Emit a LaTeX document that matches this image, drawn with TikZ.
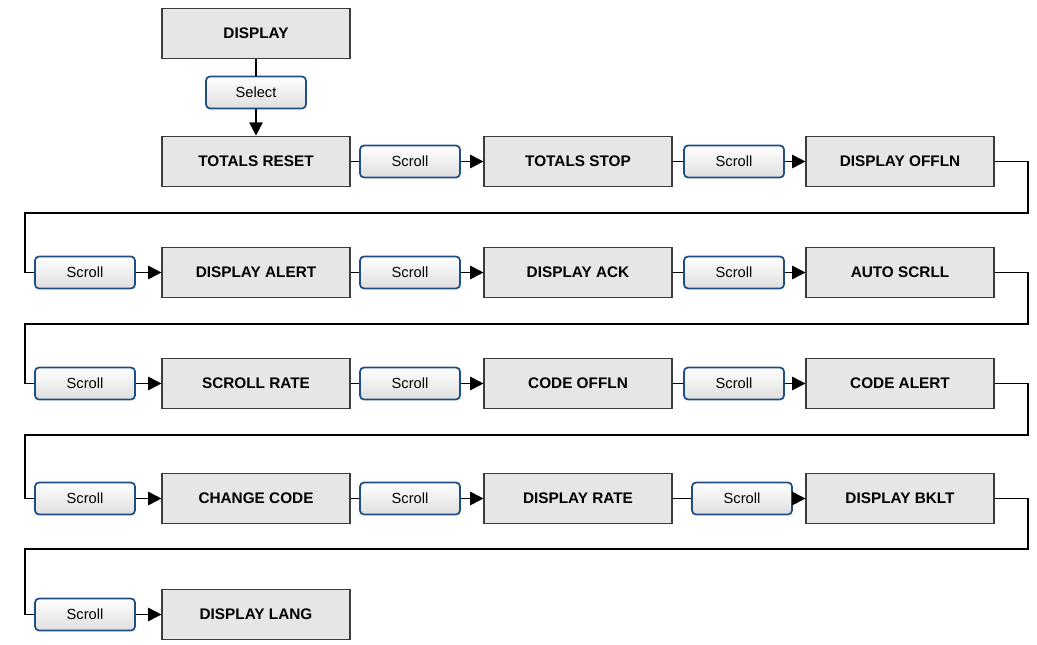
\documentclass[tikz,border=0pt]{standalone}
\usepackage{fontspec}
\setmainfont{Liberation Sans}
\usetikzlibrary{arrows.meta,positioning}
\definecolor{boxfill}{HTML}{E6E6E6}
\definecolor{boxline}{HTML}{3C3C3C}
\definecolor{btnline}{HTML}{1F4E85}

\begin{document}
\begin{tikzpicture}[x=0.75pt, y=-0.75pt,
    menubox/.style={draw=boxline, fill=boxfill, line width=0.8pt, minimum width=141pt, minimum height=38pt, inner sep=0pt, font=\fontsize{11.5}{13}\selectfont\bfseries},
    btn/.style={draw=btnline, top color=white, bottom color=black!13, line width=1.3pt, rounded corners=3pt, minimum width=75pt, minimum height=24pt, inner sep=0pt, font=\fontsize{11}{13}\selectfont},
    link/.style={line width=1.3pt},
    go/.style={link, -{Triangle[length=10pt,width=10pt]}},
]
\useasboundingbox (0,0) rectangle (1037,645);
% menu items
\node[menubox] (disp)  at (256, 33.5) {DISPLAY};
\node[menubox] (tr)    at (256,161.5) {TOTALS RESET};
\node[menubox] (ts)    at (578,161.5) {TOTALS STOP};
\node[menubox] (doff)  at (900,161.5) {DISPLAY OFFLN};
\node[menubox] (dal)   at (256,272.5) {DISPLAY ALERT};
\node[menubox] (dack)  at (578,272.5) {DISPLAY ACK};
\node[menubox] (ascr)  at (900,272.5) {AUTO SCRLL};
\node[menubox] (srate) at (256,383.5) {SCROLL RATE};
\node[menubox] (coff)  at (578,383.5) {CODE OFFLN};
\node[menubox] (calrt) at (900,383.5) {CODE ALERT};
\node[menubox] (chg)   at (256,498.5) {CHANGE CODE};
\node[menubox] (drate) at (578,498.5) {DISPLAY RATE};
\node[menubox] (dbklt) at (900,498.5) {DISPLAY BKLT};
\node[menubox] (dlang) at (256,614.5) {DISPLAY LANG};
% buttons
\node[btn] (sel) at (256, 92.5) {Select};
\node[btn] (s1)  at (410,161.5) {Scroll};
\node[btn] (s2)  at (734,161.5) {Scroll};
\node[btn] (s3)  at ( 85,272.5) {Scroll};
\node[btn] (s4)  at (410,272.5) {Scroll};
\node[btn] (s5)  at (734,272.5) {Scroll};
\node[btn] (s6)  at ( 85,383.5) {Scroll};
\node[btn] (s7)  at (410,383.5) {Scroll};
\node[btn] (s8)  at (734,383.5) {Scroll};
\node[btn] (s9)  at ( 85,498.5) {Scroll};
\node[btn] (s10) at (410,498.5) {Scroll};
\node[btn] (s11) at (742,498.5) {Scroll};
\node[btn] (s12) at ( 85,614.5) {Scroll};
% turn points
\coordinate (t1r) at (1028,213);  \coordinate (t1l) at (25,213);
\coordinate (t2r) at (1028,324);  \coordinate (t2l) at (25,324);
\coordinate (t3r) at (1028,435);  \coordinate (t3l) at (25,435);
\coordinate (t4r) at (1028,549);  \coordinate (t4l) at (25,549);
% links
\draw[link] (disp) -- (sel);  \draw[go] (sel) -- (tr);
\draw[link] (tr) -- (s1);     \draw[go] (s1) -- (ts);
\draw[link] (ts) -- (s2);     \draw[go] (s2) -- (doff);
\draw[link] (doff.east) -| (t1r) -- (t1l) |- (s3.west);
\draw[go] (s3) -- (dal);
\draw[link] (dal) -- (s4);    \draw[go] (s4) -- (dack);
\draw[link] (dack) -- (s5);   \draw[go] (s5) -- (ascr);
\draw[link] (ascr.east) -| (t2r) -- (t2l) |- (s6.west);
\draw[go] (s6) -- (srate);
\draw[link] (srate) -- (s7);  \draw[go] (s7) -- (coff);
\draw[link] (coff) -- (s8);   \draw[go] (s8) -- (calrt);
\draw[link] (calrt.east) -| (t3r) -- (t3l) |- (s9.west);
\draw[go] (s9) -- (chg);
\draw[link] (chg) -- (s10);   \draw[go] (s10) -- (drate);
\draw[link] (drate) -- (s11); \draw[go] (s11) -- (dbklt);
\draw[link] (dbklt.east) -| (t4r) -- (t4l) |- (s12.west);
\draw[go] (s12) -- (dlang);
\end{tikzpicture}
\end{document}
